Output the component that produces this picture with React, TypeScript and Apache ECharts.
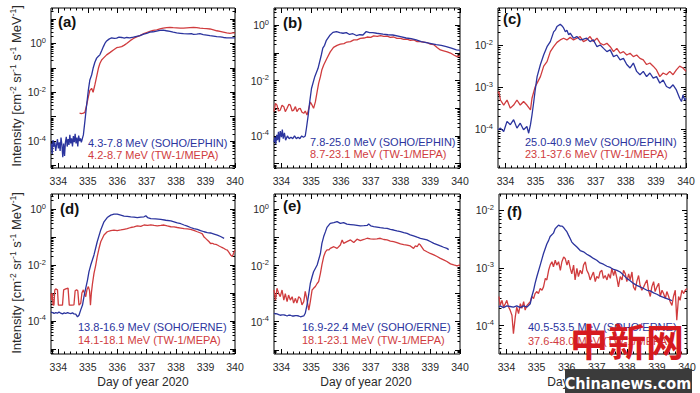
import React, { useEffect, useRef } from "react";
import * as echarts from "echarts";

const BLUE = "#2b349e";
const RED = "#d03c3e";
const FONT = '"Liberation Sans", Arial, Helvetica, sans-serif';

const dayTickLabels = [334, 335, 336, 337, 338, 339, 340];
const panelLetters = ["(a)", "(b)", "(c)", "(d)", "(e)", "(f)"];
const blueNames = [
  "4.3-7.8 MeV (SOHO/EPHIN)",
  "7.8-25.0 MeV (SOHO/EPHIN)",
  "25.0-40.9 MeV (SOHO/EPHIN)",
  "13.8-16.9 MeV (SOHO/ERNE)",
  "16.9-22.4 MeV (SOHO/ERNE)",
  "40.5-53.5 MeV (SOHO/ERNE)",
];
const redNames = [
  "4.2-8.7 MeV (TW-1/MEPA)",
  "8.7-23.1 MeV (TW-1/MEPA)",
  "23.1-37.6 MeV (TW-1/MEPA)",
  "14.1-18.1 MeV (TW-1/MEPA)",
  "18.1-23.1 MeV (TW-1/MEPA)",
  "37.6-48.0 MeV (TW-1/MEPA)",
];
const yLabelExponents = [
  [0, -2, -4],
  [0, -2, -4],
  [-2, -3, -4],
  [0, -2, -4],
  [0, -2, -4],
  [-2, -3, -4],
];

// ---- data: [day of year, intensity] ----
const aBlue = [[333.76,8e-5],[333.79,3e-5],[333.82,1.1e-4],[333.85,6e-5],[333.88,9e-5],[333.91,4e-5],[333.94,7e-5],[333.97,1.2e-4],[334.0,5e-5],[334.03,9e-5],[334.06,4e-5],[334.09,1.4e-4],[334.12,7e-5],[334.15,2.2e-5],[334.18,8e-5],[334.21,2.5e-5],[334.24,9e-5],[334.27,1.5e-4],[334.3,6e-5],[334.33,1.2e-4],[334.36,7e-5],[334.39,1.8e-4],[334.42,8e-5],[334.45,1.3e-4],[334.48,6e-5],[334.51,1.6e-4],[334.54,9e-5],[334.57,2e-4],[334.6,8e-5],[334.63,1.4e-4],[334.66,6e-5],[334.69,1.7e-4],[334.72,1e-4],[334.75,1.3e-4],[334.78,9e-5],[334.81,1.2e-4],[334.85,1.8e-4],[334.9,6.3e-4],[334.96,3e-3],[335.02,1.25e-2],[335.07,3.2e-2],[335.13,5.1e-2],[335.18,9.6e-2],[335.24,0.17],[335.3,0.25],[335.36,0.3],[335.41,0.34],[335.47,0.5],[335.53,0.74],[335.58,1.0],[335.64,1.26],[335.72,1.5],[335.81,1.7],[335.9,1.6],[335.98,1.65],[336.06,1.8],[336.15,1.75],[336.24,1.65],[336.32,1.75],[336.42,1.7],[336.55,1.8],[336.66,1.95],[336.77,2.1],[336.9,2.4],[337.0,2.6],[337.11,2.9],[337.22,3.0],[337.34,3.2],[337.45,3.4],[337.56,3.5],[337.67,3.3],[337.79,3.1],[337.9,2.9],[338.02,2.7],[338.14,2.6],[338.25,2.5],[338.4,2.45],[338.52,2.5],[338.59,2.35],[338.7,2.4],[338.81,2.5],[338.92,2.3],[339.04,2.2],[339.15,2.1],[339.27,2.0],[339.38,1.9],[339.5,1.85],[339.61,1.75],[339.72,1.7],[339.85,1.7],[340.0,1.7]];
const aRed = [[334.72,1.4e-3],[334.78,1.35e-3],[334.85,1.4e-3],[334.9,1.5e-3],[334.96,3e-3],[335.02,6.6e-3],[335.07,1.2e-2],[335.13,1.45e-2],[335.18,1.0e-2],[335.24,2e-2],[335.3,4.4e-2],[335.36,9.6e-2],[335.41,0.15],[335.47,0.21],[335.53,0.25],[335.64,0.34],[335.76,0.43],[335.87,0.54],[335.98,0.67],[336.07,0.7],[336.15,0.74],[336.24,0.85],[336.32,1.0],[336.44,1.3],[336.55,1.6],[336.66,1.85],[336.77,2.1],[336.9,2.5],[337.0,2.8],[337.11,3.1],[337.22,3.4],[337.34,3.6],[337.45,3.9],[337.56,4.2],[337.68,4.4],[337.79,4.5],[337.9,4.4],[338.02,4.3],[338.14,4.2],[338.25,4.2],[338.36,4.3],[338.47,4.4],[338.59,4.5],[338.7,4.4],[338.81,4.2],[338.92,4.1],[339.04,4.0],[339.15,3.9],[339.27,3.6],[339.38,3.3],[339.49,3.1],[339.6,2.9],[339.72,2.7],[339.83,2.6],[339.92,2.7],[340.0,2.7]];

const bBlue = [[333.75,6e-5],[333.78,9e-5],[333.81,5e-5],[333.84,1.1e-4],[333.87,7e-5],[333.9,1.4e-4],[333.93,6e-5],[333.96,1.5e-4],[334.0,9e-5],[334.03,1.7e-4],[334.06,8e-5],[334.1,1.3e-4],[334.14,7e-5],[334.2,1e-4],[334.26,8e-5],[334.32,9e-5],[334.38,8e-5],[334.44,1e-4],[334.5,8e-5],[334.56,9e-5],[334.62,8e-5],[334.68,1e-4],[334.74,9e-5],[334.8,1e-4],[334.84,1.9e-4],[334.9,5.7e-4],[334.95,1.7e-3],[335.01,5.2e-3],[335.12,1.4e-2],[335.23,2.8e-2],[335.34,8.5e-2],[335.39,0.15],[335.45,0.19],[335.51,0.29],[335.62,0.43],[335.73,0.56],[335.85,0.6],[335.96,0.55],[336.07,0.52],[336.18,0.55],[336.29,0.47],[336.4,0.5],[336.52,0.43],[336.63,0.46],[336.74,0.45],[336.85,0.6],[336.96,0.55],[337.07,0.55],[337.2,0.52],[337.41,0.48],[337.58,0.46],[337.74,0.45],[338.0,0.39],[338.19,0.35],[338.36,0.33],[338.53,0.3],[338.7,0.26],[338.87,0.24],[339.03,0.22],[339.2,0.2],[339.37,0.19],[339.54,0.17],[339.71,0.15],[339.88,0.13],[340.0,0.125]];
const bRed = [[333.75,7.6e-4],[333.8,1.5e-3],[333.85,1.3e-3],[333.9,8e-4],[333.96,8.6e-4],[334.02,1.3e-3],[334.08,1.15e-3],[334.13,7.6e-4],[334.19,1e-3],[334.25,1.4e-3],[334.3,1.3e-3],[334.36,8e-4],[334.41,8.6e-4],[334.47,1.15e-3],[334.52,7.6e-4],[334.58,9.5e-4],[334.63,1e-3],[334.69,7.2e-4],[334.75,6.6e-4],[334.8,8e-4],[334.86,5.7e-4],[334.92,1e-3],[334.97,1.7e-3],[335.03,1.3e-3],[335.08,1e-3],[335.14,1.7e-3],[335.2,4e-3],[335.25,8e-3],[335.31,1.4e-2],[335.36,2.5e-2],[335.42,3.7e-2],[335.53,6.5e-2],[335.64,0.11],[335.75,0.16],[335.87,0.19],[335.98,0.21],[336.1,0.22],[336.2,0.25],[336.32,0.26],[336.43,0.3],[336.54,0.3],[336.65,0.34],[336.77,0.35],[336.88,0.38],[337.0,0.37],[337.1,0.42],[337.22,0.4],[337.33,0.43],[337.44,0.4],[337.55,0.41],[337.66,0.37],[337.77,0.38],[337.88,0.34],[338.0,0.34],[338.11,0.31],[338.22,0.32],[338.33,0.29],[338.45,0.3],[338.56,0.26],[338.67,0.26],[338.78,0.25],[338.89,0.24],[339.0,0.21],[339.12,0.2],[339.23,0.16],[339.34,0.13],[339.45,0.12],[339.57,0.11],[339.68,0.1],[339.79,0.085],[339.9,0.074],[340.0,0.08]];

const cBlue = [[333.75,9.8e-5],[333.83,1.07e-4],[333.94,8.9e-5],[334.05,1.55e-4],[334.16,1.29e-4],[334.27,1.7e-4],[334.38,1.07e-4],[334.49,1.4e-4],[334.6,9.8e-5],[334.71,1.17e-4],[334.77,8.1e-5],[334.83,1.29e-4],[334.88,2.2e-4],[334.94,4.6e-4],[334.99,9e-4],[335.05,1.8e-3],[335.16,3.5e-3],[335.27,6e-3],[335.38,9.3e-3],[335.49,1.23e-2],[335.6,2.1e-2],[335.66,2.34e-2],[335.71,2.8e-2],[335.82,3.2e-2],[335.88,2.9e-2],[335.93,2.6e-2],[335.99,2.1e-2],[336.04,2.3e-2],[336.1,1.78e-2],[336.15,1.95e-2],[336.26,1.48e-2],[336.37,1.62e-2],[336.48,1.35e-2],[336.59,1.4e-2],[336.7,1.48e-2],[336.81,1.23e-2],[336.92,1.35e-2],[337.04,9.3e-3],[337.15,1.02e-2],[337.26,8.5e-3],[337.37,7.1e-3],[337.48,7.8e-3],[337.59,5.4e-3],[337.7,5.9e-3],[337.81,4.5e-3],[337.92,4.9e-3],[338.03,3.5e-3],[338.14,2.9e-3],[338.25,3.8e-3],[338.36,2.4e-3],[338.47,2e-3],[338.58,2.4e-3],[338.69,1.8e-3],[338.8,2.2e-3],[338.91,1.66e-3],[339.02,1.8e-3],[339.13,1.26e-3],[339.24,1.5e-3],[339.35,1.05e-3],[339.46,9.5e-4],[339.57,1.15e-3],[339.68,8.7e-4],[339.79,5.5e-4],[339.85,4.6e-4],[339.9,6.6e-4],[339.96,5e-4],[340.0,5.5e-4]];
const cRed = [[333.75,7.2e-4],[333.78,7.9e-4],[333.83,5e-4],[333.94,3.8e-4],[334.05,5e-4],[334.16,3.2e-4],[334.27,3.8e-4],[334.38,5e-4],[334.49,3.8e-4],[334.6,4.6e-4],[334.71,3.8e-4],[334.83,2.9e-4],[334.88,5.5e-4],[334.94,7.9e-4],[334.99,1.05e-3],[335.05,1.26e-3],[335.16,1.8e-3],[335.27,3.2e-3],[335.38,4.1e-3],[335.49,7.1e-3],[335.6,9.3e-3],[335.71,1.18e-2],[335.82,1.35e-2],[335.93,1.48e-2],[336.04,1.35e-2],[336.15,1.55e-2],[336.26,1.35e-2],[336.37,1.48e-2],[336.48,1.62e-2],[336.59,1.23e-2],[336.7,1.35e-2],[336.81,1.62e-2],[336.92,1.23e-2],[337.04,1.48e-2],[337.15,1.12e-2],[337.26,1.02e-2],[337.37,1.12e-2],[337.48,9.3e-3],[337.59,7.1e-3],[337.7,8.5e-3],[337.81,6.5e-3],[337.92,7.1e-3],[338.03,5.9e-3],[338.14,6.5e-3],[338.25,5.4e-3],[338.36,5.9e-3],[338.47,4.9e-3],[338.58,4.5e-3],[338.69,3.5e-3],[338.8,3.8e-3],[338.91,3.2e-3],[339.02,2.6e-3],[339.13,1.8e-3],[339.24,2.2e-3],[339.35,2e-3],[339.46,2.4e-3],[339.57,2e-3],[339.68,2.6e-3],[339.79,3.2e-3],[339.9,2.9e-3],[340.0,2.4e-3]];

const dBlue = [[333.75,2.1e-4],[333.8,2.0e-4],[333.85,1.85e-4],[333.91,2.0e-4],[333.97,1.9e-4],[334.02,2.1e-4],[334.08,1.9e-4],[334.14,1.8e-4],[334.2,1.95e-4],[334.25,1.85e-4],[334.31,2.0e-4],[334.36,1.9e-4],[334.42,1.85e-4],[334.48,1.95e-4],[334.53,1.8e-4],[334.59,1.75e-4],[334.65,1.4e-4],[334.7,1.6e-4],[334.76,2.5e-4],[334.82,3.7e-4],[334.87,7.4e-4],[334.93,1.5e-3],[334.99,2.9e-3],[335.04,5.8e-3],[335.1,0.01],[335.21,0.023],[335.32,0.068],[335.44,0.18],[335.55,0.35],[335.66,0.5],[335.78,0.61],[335.89,0.66],[336.0,0.66],[336.12,0.61],[336.23,0.56],[336.34,0.55],[336.46,0.53],[336.57,0.52],[336.68,0.5],[336.8,0.52],[336.91,0.53],[336.97,0.58],[337.03,0.5],[337.14,0.46],[337.3,0.45],[337.48,0.43],[337.65,0.4],[337.82,0.38],[337.93,0.35],[338.04,0.32],[338.16,0.3],[338.27,0.27],[338.38,0.245],[338.49,0.22],[338.6,0.2],[338.72,0.19],[338.83,0.17],[338.95,0.155],[339.06,0.145],[339.17,0.14],[339.29,0.128],[339.4,0.118],[339.51,0.105],[339.63,0.09]];
const dRed = [[333.75,9.7e-4],[333.77,5.6e-4],[333.79,1.0e-3],[333.82,3.7e-4],[333.85,3.7e-4],[333.88,1.3e-3],[333.91,1.4e-3],[333.97,1.3e-3],[334.0,3.7e-4],[334.08,3.7e-4],[334.14,3.7e-4],[334.18,1.3e-3],[334.25,1.4e-3],[334.33,1.5e-3],[334.37,3.7e-4],[334.45,3.7e-4],[334.53,3.8e-4],[334.57,1.2e-3],[334.62,1.3e-3],[334.66,1.2e-3],[334.7,3.7e-4],[334.76,4.3e-4],[334.8,1.0e-3],[334.85,1.3e-3],[334.9,9e-4],[334.93,7.4e-4],[334.97,1.3e-3],[335.02,1.7e-3],[335.06,1.2e-3],[335.09,3.7e-4],[335.12,9.7e-4],[335.16,2.2e-3],[335.21,5e-3],[335.27,0.01],[335.32,0.02],[335.38,0.039],[335.44,0.068],[335.55,0.118],[335.66,0.155],[335.78,0.17],[335.89,0.178],[336.0,0.17],[336.12,0.18],[336.23,0.19],[336.34,0.2],[336.46,0.22],[336.57,0.23],[336.68,0.25],[336.8,0.24],[336.91,0.27],[337.03,0.26],[337.14,0.275],[337.25,0.26],[337.36,0.25],[337.48,0.26],[337.59,0.27],[337.7,0.25],[337.82,0.234],[337.93,0.23],[338.04,0.22],[338.16,0.21],[338.27,0.2],[338.38,0.195],[338.49,0.19],[338.6,0.175],[338.72,0.155],[338.83,0.14],[338.89,0.13],[338.95,0.1],[339.01,0.088],[339.06,0.078],[339.12,0.068],[339.17,0.059],[339.23,0.06],[339.29,0.056],[339.35,0.055],[339.4,0.052],[339.46,0.048],[339.51,0.045],[339.57,0.042],[339.63,0.039],[339.68,0.036],[339.74,0.034],[339.8,0.028],[339.85,0.023],[339.91,0.02],[339.97,0.03],[340.0,0.034]];

const eBlue = [[333.75,2e-4],[333.8,1.9e-4],[333.85,1.9e-4],[333.91,1.8e-4],[333.96,1.7e-4],[334.02,1.75e-4],[334.08,1.75e-4],[334.13,1.7e-4],[334.19,1.6e-4],[334.24,1.7e-4],[334.3,1.7e-4],[334.36,1.6e-4],[334.41,1.6e-4],[334.47,1.65e-4],[334.52,1.65e-4],[334.58,1.6e-4],[334.64,1.5e-4],[334.69,1.55e-4],[334.75,1.6e-4],[334.8,2e-4],[334.86,4e-4],[334.92,1e-3],[334.97,2.3e-3],[335.03,4e-3],[335.08,6e-3],[335.2,0.0105],[335.31,0.027],[335.36,0.062],[335.42,0.108],[335.48,0.162],[335.53,0.23],[335.64,0.32],[335.76,0.34],[335.87,0.37],[335.98,0.32],[336.09,0.34],[336.2,0.3],[336.32,0.29],[336.43,0.28],[336.54,0.27],[336.65,0.26],[336.77,0.265],[336.88,0.27],[336.93,0.3],[337.0,0.26],[337.1,0.245],[337.21,0.235],[337.32,0.225],[337.44,0.215],[337.55,0.21],[337.66,0.195],[337.77,0.185],[337.88,0.172],[338.0,0.162],[338.11,0.15],[338.22,0.14],[338.33,0.125],[338.44,0.114],[338.56,0.103],[338.67,0.094],[338.78,0.088],[338.89,0.082],[339.0,0.072],[339.12,0.062],[339.23,0.056],[339.34,0.05],[339.45,0.045],[339.56,0.041],[339.62,0.037]];
const eRed = [[333.75,1.35e-3],[333.8,5.9e-4],[333.85,1.55e-3],[333.91,1e-3],[333.96,7.8e-4],[334.02,1.35e-3],[334.08,5.9e-4],[334.13,1e-3],[334.19,5.2e-4],[334.24,8.9e-4],[334.3,5.9e-4],[334.36,7.8e-4],[334.41,4.6e-4],[334.47,6.8e-4],[334.52,4.6e-4],[334.58,7.8e-4],[334.64,6.8e-4],[334.69,4e-4],[334.75,5.2e-4],[334.8,1.2e-3],[334.86,5.9e-4],[334.92,2.6e-4],[334.97,5.2e-4],[335.03,1.35e-3],[335.08,1.55e-3],[335.14,1.8e-3],[335.2,2.3e-3],[335.25,2.7e-3],[335.31,5.3e-3],[335.36,0.0105],[335.42,0.021],[335.48,0.031],[335.53,0.036],[335.59,0.036],[335.64,0.041],[335.76,0.047],[335.87,0.041],[335.98,0.054],[336.04,0.082],[336.09,0.062],[336.2,0.071],[336.32,0.082],[336.43,0.066],[336.54,0.087],[336.65,0.077],[336.77,0.085],[336.88,0.094],[336.99,0.09],[337.1,0.087],[337.21,0.09],[337.32,0.094],[337.44,0.085],[337.55,0.082],[337.66,0.075],[337.77,0.071],[337.88,0.066],[338.0,0.059],[338.11,0.056],[338.22,0.054],[338.33,0.05],[338.44,0.041],[338.5,0.05],[338.56,0.047],[338.62,0.06],[338.67,0.054],[338.78,0.036],[338.89,0.031],[339.0,0.027],[339.12,0.024],[339.23,0.021],[339.34,0.018],[339.45,0.016],[339.56,0.014],[339.68,0.0115],[339.79,0.0105],[339.9,0.0097],[340.0,0.0105]];

const fBlue = [[333.75,2.1e-4],[333.79,2.2e-4],[333.9,2.05e-4],[334.01,2.2e-4],[334.12,2.15e-4],[334.23,2.1e-4],[334.34,2.2e-4],[334.46,2.05e-4],[334.57,2.2e-4],[334.68,2.1e-4],[334.79,2.4e-4],[334.84,3.2e-4],[334.9,4.1e-4],[334.95,5.4e-4],[335.01,7.1e-4],[335.12,1.12e-3],[335.23,1.78e-3],[335.34,2.6e-3],[335.4,3e-3],[335.45,3.5e-3],[335.56,4e-3],[335.62,4.8e-3],[335.67,5.1e-3],[335.73,5.5e-3],[335.79,5.3e-3],[335.84,5.3e-3],[335.9,5e-3],[335.95,4.6e-3],[336.01,4.2e-3],[336.06,3.7e-3],[336.12,3.2e-3],[336.17,2.8e-3],[336.23,2.6e-3],[336.34,2.3e-3],[336.45,2e-3],[336.56,1.9e-3],[336.67,1.73e-3],[336.78,1.6e-3],[336.89,1.46e-3],[337.0,1.36e-3],[337.11,1.22e-3],[337.22,1.16e-3],[337.34,1.07e-3],[337.45,1.02e-3],[337.56,9.4e-4],[337.67,9.1e-4],[337.78,8.5e-4],[337.89,7.5e-4],[338.0,6.6e-4],[338.11,6e-4],[338.22,5.4e-4],[338.33,5e-4],[338.44,4.7e-4],[338.56,4.4e-4],[338.67,4.1e-4],[338.78,4e-4],[338.89,3.7e-4],[339.0,3.5e-4],[339.11,3.25e-4],[339.22,3.1e-4],[339.33,2.95e-4],[339.44,2.8e-4],[339.5,2.7e-4]];
const fRed = [[333.75,3.2e-4],[333.79,2.25e-4],[333.85,2.75e-4],[333.9,2.1e-4],[333.96,2.4e-4],[334.01,2.75e-4],[334.07,2.1e-4],[334.12,1.86e-4],[334.18,1.52e-4],[334.23,7.3e-5],[334.29,1.41e-4],[334.34,2.1e-4],[334.4,1.62e-4],[334.46,2.4e-4],[334.51,2e-4],[334.57,2.6e-4],[334.62,1.86e-4],[334.68,2.25e-4],[334.73,2.4e-4],[334.79,2.6e-4],[334.84,3.2e-4],[334.9,2.95e-4],[334.95,3.6e-4],[335.01,3.9e-4],[335.06,3.6e-4],[335.12,4.4e-4],[335.18,4.1e-4],[335.23,4.7e-4],[335.29,6.6e-4],[335.34,6.2e-4],[335.4,9.1e-4],[335.45,1.12e-3],[335.51,1.28e-3],[335.56,1.05e-3],[335.62,1.36e-3],[335.67,1.12e-3],[335.73,1.28e-3],[335.79,9.1e-4],[335.84,1.28e-3],[335.9,1.55e-3],[335.95,1.46e-3],[336.01,1.12e-3],[336.06,1.36e-3],[336.12,9.8e-4],[336.17,7.9e-4],[336.23,1.12e-3],[336.28,6.2e-4],[336.34,9.8e-4],[336.39,7.1e-4],[336.45,9.1e-4],[336.51,7.9e-4],[336.56,1.12e-3],[336.62,1.28e-3],[336.67,9.1e-4],[336.73,7.9e-4],[336.78,6.2e-4],[336.84,7.4e-4],[336.89,8.5e-4],[336.95,5.8e-4],[337.0,7.1e-4],[337.06,6.6e-4],[337.11,8.5e-4],[337.17,9.1e-4],[337.22,6.6e-4],[337.28,7.4e-4],[337.34,6.2e-4],[337.39,7.9e-4],[337.45,6.6e-4],[337.5,9.8e-4],[337.56,7.4e-4],[337.61,9.1e-4],[337.67,6.6e-4],[337.72,4.7e-4],[337.78,7.1e-4],[337.84,6.2e-4],[337.89,9.1e-4],[337.95,7.9e-4],[338.0,5.8e-4],[338.06,7.9e-4],[338.11,6.2e-4],[338.17,8.5e-4],[338.22,4.7e-4],[338.28,4.1e-4],[338.33,5.8e-4],[338.39,7.4e-4],[338.44,5e-4],[338.5,4.1e-4],[338.56,4.7e-4],[338.61,5.4e-4],[338.67,6.2e-4],[338.72,4.1e-4],[338.78,3.2e-4],[338.83,4.7e-4],[338.89,5.8e-4],[338.94,3.9e-4],[339.0,4.7e-4],[339.06,5.4e-4],[339.11,3.2e-4],[339.17,4.1e-4],[339.22,3.6e-4],[339.28,2.95e-4],[339.33,3.9e-4],[339.39,3.2e-4],[339.44,2.6e-4],[339.5,2.25e-4],[339.55,3.2e-4],[339.61,4.1e-4],[339.66,1.25e-4],[339.72,3.2e-4],[339.77,2.75e-4],[339.83,4.1e-4],[339.89,3.6e-4],[339.94,4.1e-4],[340.0,4.4e-4]];

const blueSeries = [aBlue, bBlue, cBlue, dBlue, eBlue, fBlue];
const redSeries = [aRed, bRed, cRed, dRed, eRed, fRed];

// ---- layout (pixels) ----
const LAYOUT = [
  { left: 51, top: 8, width: 184, height: 160, logMin: -5.1, logMax: 1.45, letter: [58, 21], leg: [88, 143, 155] },
  { left: 274, top: 8, width: 186, height: 160, logMin: -5.16, logMax: 0.63, letter: [283, 22], leg: [310, 142, 154] },
  { left: 498, top: 8, width: 188, height: 160, logMin: -4.92, logMax: -1.11, letter: [503, 18], leg: [525, 142, 154] },
  { left: 51, top: 194, width: 184, height: 160, logMin: -5.18, logMax: 0.54, letter: [60, 208], leg: [78, 327, 340] },
  { left: 274, top: 194, width: 186, height: 160, logMin: -5.15, logMax: 0.55, letter: [283, 205], leg: [302, 327, 340] },
  { left: 499, top: 194, width: 188, height: 160, logMin: -4.49, logMax: -1.72, letter: [507, 211], leg: [528, 327, 341] },
];
const X_MIN = 333.75;
const X_MAX = 340;

function buildOption() {
  const grids: any[] = [];
  const xAxes: any[] = [];
  const yAxes: any[] = [];
  const series: any[] = [];
  const graphics: any[] = [];

  const xMinor: number[] = [];
  for (let k = 0; k < 40; k++) {
    const t = Math.round((333.8 + k * 0.2) * 10) / 10;
    if (t > X_MAX + 1e-9) break;
    if (Math.abs(t - Math.round(t)) > 1e-6) xMinor.push(t);
  }

  const tickLine = { color: "#000", width: 1 };

  LAYOUT.forEach((g, i) => {
    grids.push({
      left: g.left, top: g.top, width: g.width, height: g.height,
      show: true, borderColor: "#000", borderWidth: 1, backgroundColor: "rgba(0,0,0,0)",
      containLabel: false, outerBoundsMode: "none",
    });
    const lo = Math.pow(10, g.logMin);
    const hi = Math.pow(10, g.logMax);
    const yMajor: number[] = [];
    const yMinor: number[] = [];
    for (let n = Math.floor(g.logMin); n <= Math.ceil(g.logMax); n++) {
      for (let k = 1; k <= 9; k++) {
        const v = k * Math.pow(10, n);
        if (v < lo || v > hi) continue;
        if (k === 1) yMajor.push(v); else yMinor.push(v);
      }
    }
    const yLabels = yLabelExponents[i].map((e) => Math.pow(10, e));

    const xa = (pos: string, ticks: number[], len: number, labels: boolean) => ({
      type: "value", gridIndex: i, position: pos, min: X_MIN, max: X_MAX,
      axisLine: { show: false, onZero: false },
      axisTick: { show: true, inside: true, length: len, customValues: ticks, lineStyle: tickLine },
      axisLabel: labels
        ? { show: true, customValues: dayTickLabels, fontSize: 10.5, fontFamily: FONT, color: "#2a2a2a", margin: 7 }
        : { show: false },
      splitLine: { show: false },
    });
    xAxes.push(xa("bottom", dayTickLabels, 5, true));
    xAxes.push(xa("bottom", xMinor, 2.5, false));
    xAxes.push(xa("top", dayTickLabels, 5, false));
    xAxes.push(xa("top", xMinor, 2.5, false));

    const ya = (pos: string, ticks: number[], len: number, labels: boolean) => ({
      type: "log", logBase: 10, gridIndex: i, position: pos, min: lo, max: hi,
      axisLine: { show: false, onZero: false },
      axisTick: { show: true, inside: true, length: len, customValues: ticks, lineStyle: tickLine },
      axisLabel: labels
        ? {
            show: true, customValues: yLabels, margin: 5,
            formatter: (v: number) => `{b|10}{s|${Math.round(Math.log10(v))}}`,
            rich: {
              b: { fontSize: 10.5, fontFamily: FONT, color: "#2a2a2a", lineHeight: 14 },
              s: { fontSize: 7.5, fontFamily: FONT, color: "#2a2a2a", verticalAlign: "top", lineHeight: 6 },
            },
          }
        : { show: false },
      splitLine: { show: false },
    });
    yAxes.push(ya("left", yMajor, 5, true));
    yAxes.push(ya("left", yMinor, 2.5, false));
    yAxes.push(ya("right", yMajor, 5, false));
    yAxes.push(ya("right", yMinor, 2.5, false));

    series.push({
      type: "line", xAxisIndex: 4 * i, yAxisIndex: 4 * i, data: blueSeries[i],
      showSymbol: false, symbol: "none", lineStyle: { color: BLUE, width: 1.3 }, silent: true, z: 3,
    });
    series.push({
      type: "line", xAxisIndex: 4 * i, yAxisIndex: 4 * i, data: redSeries[i],
      showSymbol: false, symbol: "none", lineStyle: { color: RED, width: 1.3 }, silent: true, z: 2,
    });

    graphics.push({
      type: "text", x: g.letter[0], y: g.letter[1], z: 10,
      style: { text: panelLetters[i], font: `bold 15px ${FONT}`, fill: "#111", align: "left", verticalAlign: "middle" },
    });
    graphics.push({
      type: "text", x: g.leg[0], y: g.leg[1], z: 10,
      style: { text: blueNames[i], font: `11px ${FONT}`, fill: BLUE, align: "left", verticalAlign: "middle" },
    });
    graphics.push({
      type: "text", x: g.leg[0], y: g.leg[2], z: 10,
      style: { text: redNames[i], font: `11px ${FONT}`, fill: RED, align: "left", verticalAlign: "middle" },
    });
  });

  const titleRich = {
    n: { fontSize: 13, fontFamily: FONT, fill: "#2a2a2a", lineHeight: 16 },
    s: { fontSize: 8.5, fontFamily: FONT, fill: "#2a2a2a", verticalAlign: "top", lineHeight: 8 },
  };
  const titleText = "{n|Intensity [cm}{s|-2}{n| sr}{s|-1}{n| s}{s|-1}{n| MeV}{s|-1}{n|]}";
  [86, 273].forEach((cy) => {
    graphics.push({
      type: "text", x: 16, y: cy, rotation: Math.PI / 2, z: 10,
      style: { text: titleText, rich: titleRich, align: "center", verticalAlign: "middle" },
    });
  });
  [143, 366, 593].forEach((cx) => {
    graphics.push({
      type: "text", x: cx, y: 382, z: 10,
      style: { text: "Day of year 2020", font: `12px ${FONT}`, fill: "#2a2a2a", align: "center", verticalAlign: "middle" },
    });
  });

  // watermark
  graphics.push({
    type: "text", x: 627, y: 339, z: 100,
    style: { text: "中新网", font: 'bold 38px "Noto Sans CJK SC"', fill: "#d61a1f", align: "center", verticalAlign: "middle" },
  });
  graphics.push({
    type: "rect", z: 100, shape: { x: 565, y: 369, width: 127, height: 24 }, style: { fill: "#3b3b3b" },
  });
  graphics.push({
    type: "text", x: 628, y: 383, z: 101,
    style: { text: "Chinanews.com", font: 'bold 16px "DejaVu Sans Condensed", "DejaVu Sans", sans-serif', fill: "#ffffff", align: "center", verticalAlign: "middle" },
  });

  return {
    animation: false,
    backgroundColor: "#ffffff",
    grid: grids,
    xAxis: xAxes,
    yAxis: yAxes,
    series,
    graphic: { elements: graphics },
  };
}

export default function App() {
  const ref = useRef<HTMLDivElement>(null);
  useEffect(() => {
    if (!ref.current) return;
    const chart = echarts.init(ref.current, null, { renderer: "svg" });
    chart.setOption(buildOption() as any);
    return () => chart.dispose();
  }, []);
  return (
    <div
      ref={ref}
      style={{ position: "fixed", left: 0, top: 0, width: 700, height: 393, background: "#fff" }}
    />
  );
}
